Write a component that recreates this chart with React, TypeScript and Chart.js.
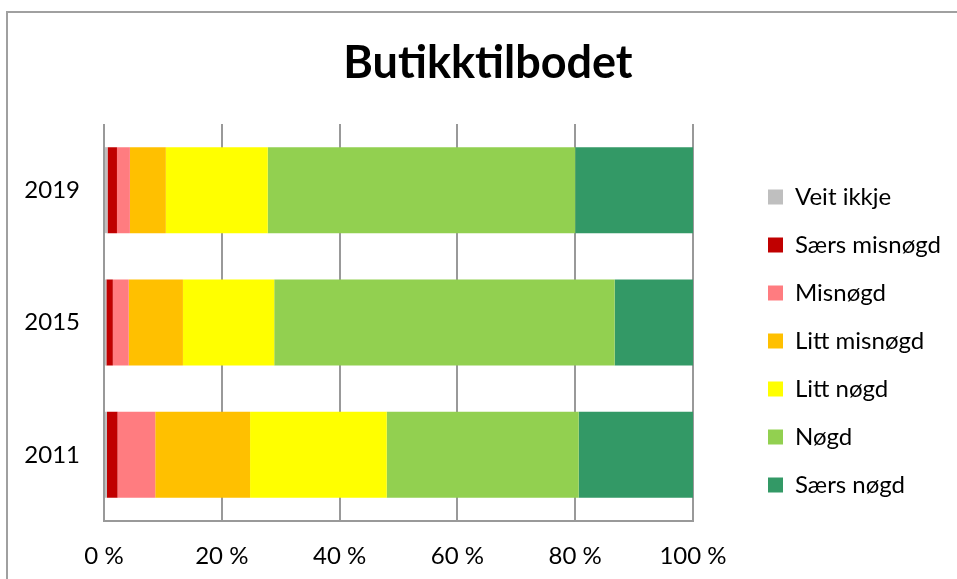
import React, { useEffect, useRef } from 'react';
import { Chart, registerables } from 'chart.js';

Chart.register(...registerables);

const categories = ['2019', '2015', '2011'];
const seriesNames = ['Veit ikkje', 'Særs misnøgd', 'Misnøgd', 'Litt misnøgd', 'Litt nøgd', 'Nøgd', 'Særs nøgd'];
const veitIkkje = [0.6, 0.4, 0.5];
const saersMisnoegd = [1.6, 1.1, 1.8];
const misnoegd = [2.2, 2.7, 6.4];
const littMisnoegd = [6.1, 9.2, 16.1];
const littNoegd = [17.3, 15.5, 23.2];
const noegd = [52.2, 57.8, 32.6];
const saersNoegd = [20.0, 13.3, 19.4];
const seriesColors = ['#BFBFBF', '#C00000', '#FF7C80', '#FFC000', '#FFFF00', '#92D050', '#339966'];
const xTickValues = [0, 20, 40, 60, 80, 100];

const FONT = 'Lato';
const LEGEND_SIZE = 24;
const TICK_SIZE = 24;
const TITLE_SIZE = 45;

export default function App() {
  const ref = useRef<HTMLCanvasElement>(null);

  useEffect(() => {
    const canvas = ref.current;
    if (!canvas) return;
    const mctx = canvas.getContext('2d')!;
    mctx.font = `${LEGEND_SIZE}px ${FONT}`;
    const maxText = Math.max(...seriesNames.map((n) => mctx.measureText(n).width));
    const legendPad = 24;
    const boxW = 15;
    const legendW = legendPad + boxW + LEGEND_SIZE / 2 + maxText + 10;
    const legendLeft = 744;
    const plotLeft = 104;
    const plotRight = 693;
    const plotBottom = 521;
    let pr = 957 - legendLeft - legendW;
    let pl = Math.min(pr + 19, 25);
    if (pr < 0) pr = 0;

    const values = [veitIkkje, saersMisnoegd, misnoegd, littMisnoegd, littNoegd, noegd, saersNoegd];

    Chart.defaults.font.family = FONT;
    Chart.defaults.color = '#000';

    const chart = new Chart(canvas, {
      type: 'bar',
      data: {
        labels: categories,
        datasets: seriesNames.map((name, i) => ({
          label: name,
          data: values[i],
          backgroundColor: seriesColors[i],
          borderWidth: 0,
          categoryPercentage: 1,
          barPercentage: 0.65,
        })),
      },
      options: {
        indexAxis: 'y',
        responsive: false,
        animation: false,
        devicePixelRatio: 1,
        layout: { padding: { left: pl, right: pr, top: 0, bottom: 0 } },
        plugins: {
          title: {
            display: true,
            text: 'Butikktilbodet',
            color: '#000',
            font: { family: FONT, size: TITLE_SIZE, weight: 'bold' },
            padding: { top: 36, bottom: 34 },
          },
          legend: {
            position: 'right',
            align: 'end',
            fullSize: false,
            labels: {
              boxWidth: boxW,
              boxHeight: 15,
              padding: legendPad,
              color: '#000',
              font: { family: FONT, size: LEGEND_SIZE },
            },
          },
          tooltip: { enabled: false },
        },
        scales: {
          x: {
            stacked: true,
            min: 0,
            max: 100,
            afterBuildTicks: (s: any) => {
              s.ticks = xTickValues.map((v) => ({ value: v }));
            },
            grid: { color: '#999999', lineWidth: 2, drawTicks: false },
            border: { display: true, color: '#999999', width: 2 },
            ticks: {
              padding: 20.6,
              color: '#000',
              font: { family: FONT, size: TICK_SIZE },
              callback: (v: any) => `${v} %`,
            },
            afterFit: (s: any) => {
              s.height = 579 - plotBottom;
            },
          },
          y: {
            stacked: true,
            grid: { display: false, drawTicks: false },
            border: { display: false },
            ticks: {
              padding: 24,
              color: '#000',
              font: { family: FONT, size: TICK_SIZE },
            },
            afterFit: (s: any) => {
              s.width = plotLeft - pl;
            },
          },
          yR: {
            type: 'category',
            position: 'right',
            display: false,
            afterFit: (s: any) => {
              s.width = legendLeft - plotRight;
            },
          },
        },
      } as any,
    });
    return () => chart.destroy();
  }, []);

  return (
    <div style={{ position: 'fixed', left: 0, top: 0, width: 957, height: 579, overflow: 'hidden', background: '#fff' }}>
      <div
        style={{
          position: 'absolute',
          left: 6,
          top: 11,
          width: 2000,
          height: 2000,
          borderLeft: '2px solid #a0a0a0',
          borderTop: '2px solid #a0a0a0',
        }}
      />
      <canvas ref={ref} width={957} height={579} style={{ position: 'absolute', left: 0, top: 0, width: 957, height: 579 }} />
    </div>
  );
}
